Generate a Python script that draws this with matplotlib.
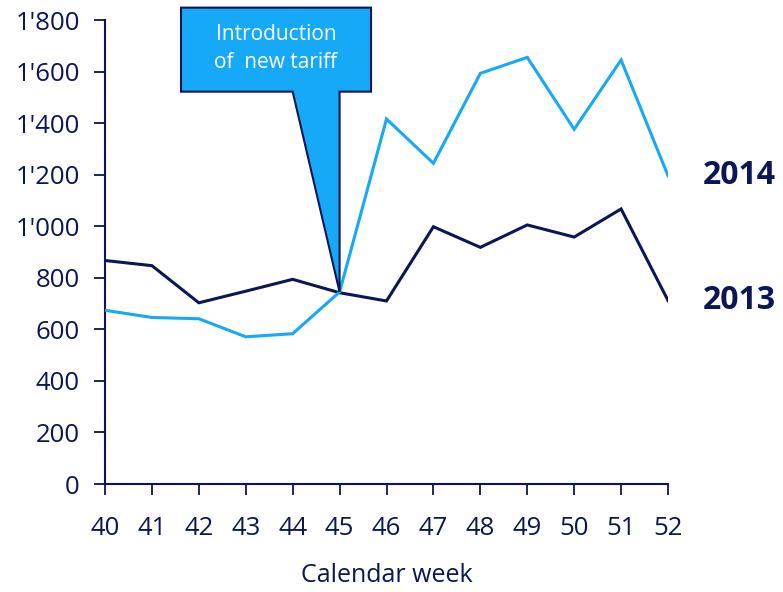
import matplotlib
matplotlib.use("Agg")
import matplotlib.pyplot as plt
from matplotlib.patches import Polygon
from matplotlib.ticker import FuncFormatter

plt.rcParams['font.family'] = ['Open Sans', 'DejaVu Sans']

weeks = [40, 41, 42, 43, 44, 45, 46, 47, 48, 49, 50, 51, 52]
sales_2013 = [867, 847, 703, 748, 794, 742, 710, 998, 918, 1005, 958, 1067, 712]
sales_2014 = [674, 646, 641, 571, 583, 745, 1416, 1244, 1593, 1655, 1376, 1645, 1196]
event_week = 45
event_text = "Introduction\nof  new tariff"

NAVY = "#0B1654"
SKY = "#16A9F7"

fig = plt.figure(figsize=(7.83, 5.92), dpi=100)
ax = fig.add_axes([105 / 783, 1 - 484 / 592, (668 - 105) / 783, (484 - 20) / 592])

ax.plot(weeks, sales_2013, color=NAVY, lw=2.2, solid_joinstyle='miter', zorder=3)
ax.plot(weeks, sales_2014, color=SKY, lw=2.2, solid_joinstyle='miter', zorder=3)

ax.set_xlim(40, 52)
ax.set_ylim(0, 1800)
ax.set_xticks(weeks)
ax.set_yticks(range(0, 1801, 200))
ax.yaxis.set_major_formatter(FuncFormatter(lambda v, p: f"{int(v):,}".replace(",", "'")))

for s in ("top", "right"):
    ax.spines[s].set_visible(False)
for s in ("left", "bottom"):
    ax.spines[s].set_color(NAVY)
    ax.spines[s].set_linewidth(1.5)
ax.tick_params(axis='both', direction='out', length=8, width=1.3, color=NAVY,
               labelcolor=NAVY, labelsize=18.5)
ax.tick_params(axis='x', pad=15)
ax.tick_params(axis='y', pad=10)
ax.set_xlabel("Calendar week", color=NAVY, fontsize=18, labelpad=16)

# series labels at the right end of each line
ax.text(52.75, sales_2014[-1], "2014", color=NAVY, fontsize=23, fontweight='bold',
        va='center', ha='left', clip_on=False)
ax.text(52.75, sales_2013[-1], "2013", color=NAVY, fontsize=23, fontweight='bold',
        va='center', ha='left', clip_on=False)

# callout pointing at the week the tariff changed
tip_y = sales_2014[weeks.index(event_week)]
box_l, box_r, box_b, box_t = 41.62, 45.67, 1522, 1848
callout = Polygon([(box_l, box_t), (box_r, box_t), (box_r, box_b), (event_week, box_b),
                   (event_week, tip_y), (44.0, box_b), (box_l, box_b)],
                  closed=True, facecolor=SKY, edgecolor=NAVY, lw=1.5,
                  joinstyle='miter', clip_on=False, zorder=4)
ax.add_patch(callout)
ax.text((box_l + box_r) / 2, (box_b + box_t) / 2 + 5, event_text, color='white',
        fontsize=15, ha='center', va='center', linespacing=1.45, zorder=5, clip_on=False)

fig.savefig("out.png", dpi=100)
